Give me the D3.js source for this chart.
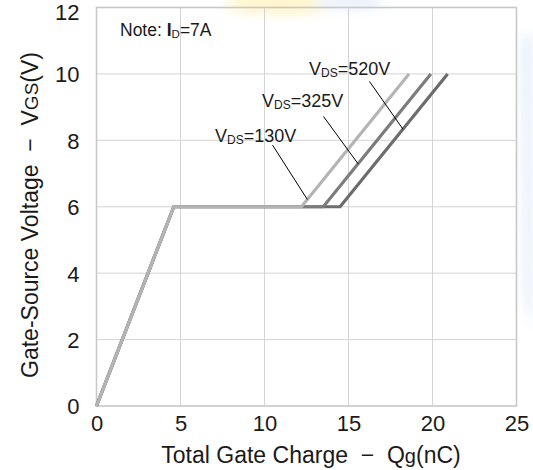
<!DOCTYPE html>
<html>
<head>
<meta charset="utf-8">
<script src="https://cdn.jsdelivr.net/npm/d3@7"></script>
<style>
  body { margin: 0; background: #fff; }
  text { font-family: "Liberation Sans", Arial, sans-serif; fill: #1a1a1a; white-space: pre; }
</style>
</head>
<body>
<svg width="533" height="470"></svg>
<script>
// gate charge curves, Qg (nC) vs VGS (V)
let vgs = [0, 6, 6, 10]
let qg130 = [0, 4.6, 12.2, 18.6]
let qg325 = [0, 4.6, 13.5, 19.9]
let qg520 = [0, 4.6, 14.5, 20.9]
let xTicks = [0, 5, 10, 15, 20, 25]
let yTicks = [0, 2, 4, 6, 8, 10, 12]
// where each label's leader line touches its curve (Qg value)
let leaderQg = [12.55, 15.57, 18.24]

let width = 533
let height = 470
let m = { left: 96.5, right: 16.5, top: 7.5, bottom: 64 }

var svg = d3.select('svg')

// faint watermark behind the chart
var defs = svg.append('defs')
defs.append('filter').attr('id', 'blur').append('feGaussianBlur').attr('stdDeviation', 6)
var wm = svg.append('g').attr('filter', 'url(#blur)').attr('opacity', 0.35)
wm.append('ellipse').attr('cx', 280).attr('cy', 4).attr('rx', 55).attr('ry', 10).attr('fill', '#ffe066')
wm.append('ellipse').attr('cx', 350).attr('cy', 2).attr('rx', 35).attr('ry', 7).attr('fill', '#b9d3f0')
wm.append('path').attr('d', 'M522,40 L533,30 L533,330 L524,300 Z').attr('fill', '#b9d3f0')

var x = d3.scaleLinear().domain([0, 25]).range([m.left, width - m.right])
var y = d3.scaleLinear().domain([0, 12]).range([height - m.bottom, m.top])

// grid
svg.append('g').selectAll('line').data(xTicks.slice(1, -1)).enter().append('line')
    .attr('x1', d => x(d)).attr('x2', d => x(d))
    .attr('y1', y(0)).attr('y2', y(12))
    .attr('stroke', '#d4d4d4').attr('stroke-width', 1)
svg.append('g').selectAll('line').data(yTicks.slice(1, -1)).enter().append('line')
    .attr('x1', x(0)).attr('x2', x(25))
    .attr('y1', d => y(d)).attr('y2', d => y(d))
    .attr('stroke', '#d4d4d4').attr('stroke-width', 1)
svg.append('rect')
    .attr('x', x(0)).attr('y', y(12))
    .attr('width', x(25) - x(0)).attr('height', y(0) - y(12))
    .attr('fill', 'none').attr('stroke', '#c8c8c8').attr('stroke-width', 1.6)

// axes (labels only, no domain)
var xAxis = svg.append('g').attr('transform', `translate(0,${y(0)})`)
    .call(d3.axisBottom(x).tickValues(xTicks).tickSize(0).tickPadding(9))
var yAxis = svg.append('g').attr('transform', `translate(${x(0)},0)`)
    .call(d3.axisLeft(y).tickValues(yTicks).tickSize(0).tickPadding(17))
svg.selectAll('.domain').remove()
svg.selectAll('.tick text').style('font-family', '"Liberation Sans", Arial, sans-serif')
    .style('font-size', '22px').attr('fill', '#1a1a1a')
yAxis.selectAll('.tick text').attr('dy', d => d == 12 ? '0.55em' : '0.36em')

// axis titles
var xt = svg.append('text').attr('x', 311).attr('y', 463).attr('text-anchor', 'middle')
    .style('font-size', '23px')
xt.append('tspan').text('Total Gate Charge  \u2212  Q')
xt.append('tspan').text('g').style('font-size', '20px')
xt.append('tspan').text('(nC)')

var yt = svg.append('text').attr('transform', 'translate(38,215) rotate(-90)')
    .attr('text-anchor', 'middle').style('font-size', '23px')
yt.append('tspan').text('Gate-Source Voltage  \u2212  V')
yt.append('tspan').text('GS').style('font-size', '19px')
yt.append('tspan').text('(V)')

// curves
var line = d3.line().x(d => x(d[0])).y(d => y(d[1]))
var series = [
    { qg: qg520, color: '#6c6c6c' },
    { qg: qg325, color: '#7c7c7c' },
    { qg: qg130, color: '#b4b4b4' }
]
svg.append('g').selectAll('path').data(series).enter().append('path')
    .attr('d', d => line(d.qg.map((q, i) => [q, vgs[i]])))
    .attr('fill', 'none').attr('stroke', d => d.color)
    .attr('stroke-width', 3.2).attr('stroke-linejoin', 'miter')

// leader lines + labels
function vOn(qg, q) {
    return vgs[2] + (q - qg[2]) * (vgs[3] - vgs[2]) / (qg[3] - qg[2])
}
var labels = [
    { name: '130V', qg: qg130, q: leaderQg[0], tx: 215, ty: 141.5, lx: 272.5, ly: 145 },
    { name: '325V', qg: qg325, q: leaderQg[1], tx: 262, ty: 107, lx: 323.5, ly: 116.5 },
    { name: '520V', qg: qg520, q: leaderQg[2], tx: 309, ty: 75, lx: 369.5, ly: 81.5 }
]
labels.forEach(l => {
    svg.append('line')
        .attr('x1', l.lx).attr('y1', l.ly)
        .attr('x2', x(l.q)).attr('y2', y(vOn(l.qg, l.q)))
        .attr('stroke', '#000').attr('stroke-width', 1)
    var t = svg.append('text').attr('x', l.tx).attr('y', l.ty).style('font-size', '18px')
    t.append('tspan').text('V')
    t.append('tspan').text('DS').style('font-size', '12px').attr('dy', 2)
    t.append('tspan').text('=' + l.name).attr('dy', -2)
})

// note
var note = svg.append('text').attr('x', 120).attr('y', 36).style('font-size', '17.5px')
note.append('tspan').text('Note: ')
note.append('tspan').text('I').style('font-weight', 'bold')
note.append('tspan').text('D').style('font-size', '11.5px').attr('dy', 2)
note.append('tspan').text('=7A').attr('dy', -2)
</script>
</body>
</html>
